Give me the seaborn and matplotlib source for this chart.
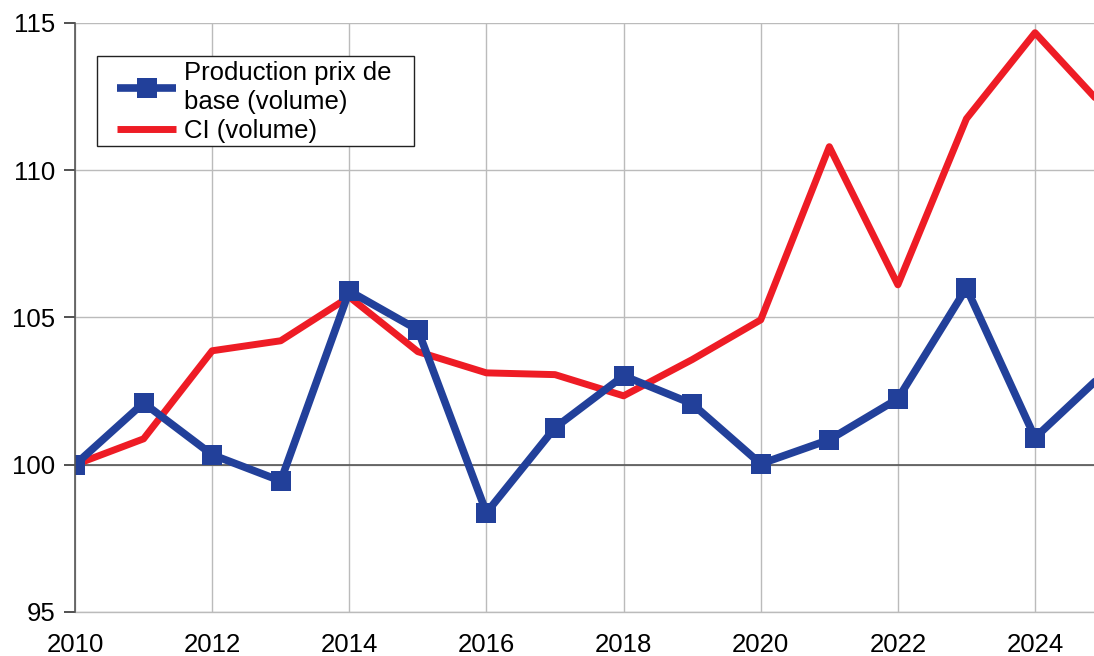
import matplotlib
matplotlib.use("Agg")
import matplotlib.pyplot as plt
import matplotlib.patches as mpatches
import seaborn as sns
import pandas as pd

years = list(range(2010, 2026))
production = [100.0, 102.1, 100.34, 99.45, 105.9, 104.58, 98.37, 101.26, 103.02, 102.07,
              100.03, 100.85, 102.24, 106.0, 100.92, 103.1]
ci = [100.0, 100.88, 103.87, 104.21, 105.7, 103.84, 103.12, 103.06, 102.34, 103.57,
      104.92, 110.8, 106.11, 111.75, 114.67, 112.15]
label_prod = "Production prix de\nbase (volume)"
label_ci = "CI (volume)"
y_ticks = [95, 100, 105, 110, 115]
x_ticks = [2010, 2012, 2014, 2016, 2018, 2020, 2022, 2024]

sns.set_theme(style="white")
plt.rcParams["font.family"] = ["Liberation Sans", "DejaVu Sans"]

df = pd.DataFrame({
    "year": years * 2,
    "value": production + ci,
    "series": [label_prod] * len(years) + [label_ci] * len(years),
})

W, H = 1094, 656
fig = plt.figure(figsize=(W / 100, H / 100), dpi=100)
ax = fig.add_axes([75 / W, 1 - 612 / H, 1 - 75 / W, (612 - 23) / H])

blue = "#22409A"
red = "#EE1C25"

ax.grid(True, color="#BBBBBB", linewidth=1)
ax.axhline(100, color="#555555", linewidth=1.2, zorder=1)

sns.lineplot(data=df[df.series == label_ci], x="year", y="value", ax=ax,
             color=red, linewidth=5, label=label_ci, zorder=3)
sns.lineplot(data=df[df.series == label_prod], x="year", y="value", ax=ax,
             color=blue, linewidth=5.5, marker="s", markersize=14,
             markeredgewidth=0, label=label_prod, zorder=4)

ax.set_xlim(2010, 2024.86)
ax.set_ylim(95, 115)
ax.set_xticks(x_ticks)
ax.set_xticklabels([str(t) for t in x_ticks])
ax.set_yticks(y_ticks)
ax.set_xlabel("")
ax.set_ylabel("")
ax.tick_params(axis="both", labelsize=18.5, colors="black")
ax.tick_params(axis="y", left=True, length=8, width=1.2, color="#333333",
               direction="out", pad=6)
ax.tick_params(axis="x", length=0, pad=15)

for s in ["top", "right"]:
    ax.spines[s].set_visible(False)
ax.spines["bottom"].set_color("#BBBBBB")
ax.spines["bottom"].set_linewidth(1)
ax.spines["left"].set_color("#555555")
ax.spines["left"].set_linewidth(1.2)
ax.spines["left"].set_zorder(5)

handles, labels = ax.get_legend_handles_labels()
order = [labels.index(label_prod), labels.index(label_ci)]
leg = ax.legend([handles[i] for i in order], [labels[i] for i in order],
                loc="upper left", bbox_to_anchor=(117 / W, 1 - 61 / H),
                bbox_transform=fig.transFigure,
                fontsize=18.5, frameon=False, handlelength=2.3,
                borderpad=0.0, labelspacing=0.2, handletextpad=0.3,
                borderaxespad=0)
for t in leg.get_texts():
    t.set_linespacing(1.25)
    t.set_color("black")
for line in leg.get_lines():
    line.set_solid_capstyle("butt")
leg.set_zorder(10)

rect = mpatches.Rectangle((97 / W, 1 - 146 / H), (414 - 97) / W, (146 - 56) / H,
                          transform=fig.transFigure, facecolor="white",
                          edgecolor="#222222", linewidth=1, zorder=8, clip_on=False)
ax.add_artist(rect)

fig.savefig("out.png", dpi=100)
